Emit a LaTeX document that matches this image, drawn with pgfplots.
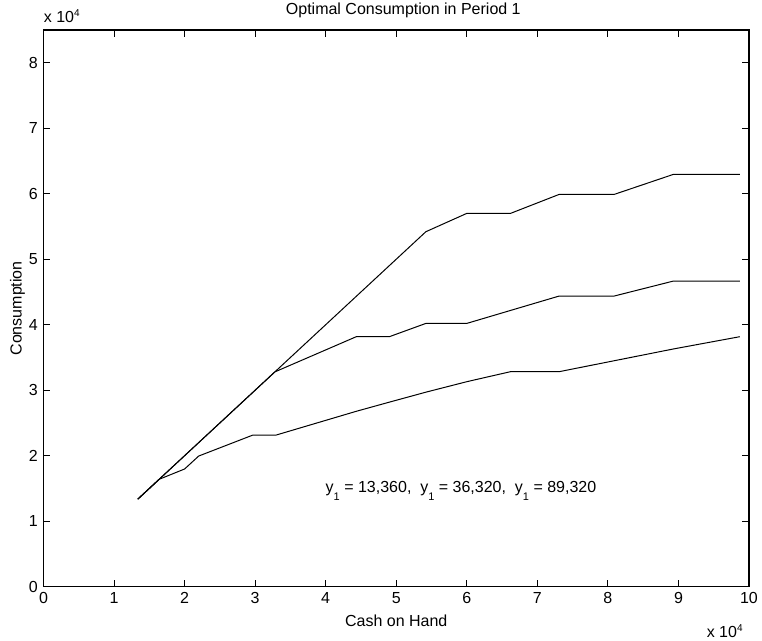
\documentclass[border=0pt]{standalone}
\usepackage{fontspec}
\setmainfont{Liberation Sans}
\usepackage{pgfplots}
\pgfplotsset{compat=1.18}
\begin{document}
\fontsize{8}{9.6}\selectfont
\begin{tikzpicture}
\begin{axis}[
  at={(0,0)}, anchor=south west,
  scale only axis,
  width=352.75pt, height=278.35pt,
  xmin=0, xmax=10, ymin=0, ymax=8.5,
  xtick={0,1,...,10}, ytick={0,1,...,8},
  scaled ticks=false,
  tick align=inside,
  major tick length=3.5pt,
  tick style={black, line width=0.5pt},
  axis line style={black, line width=0.6pt},
  /pgf/number format/assume math mode=true,
  ticklabel style={font=\fontsize{8}{9.6}\selectfont},
  label style={font=\fontsize{8}{9.6}\selectfont},
  xlabel={Cash on Hand},
  ylabel={Consumption},
  xlabel style={at={(rel axis cs:0.5,-0.0708)}, anchor=base},
  ylabel style={at={(rel axis cs:-0.0309,0.5)}, anchor=base},
  clip=false,
]
% high
\addplot[black, line width=0.5pt] coordinates {
(1.336,1.336)(1.64,1.64)(2.0,2.0)(2.2,2.2)(2.97,2.97)(3.28,3.28)(4.44,4.44)(4.91,4.91)(5.42,5.42)(6.0,5.70)(6.62,5.70)(7.31,5.99)(8.09,5.99)(8.93,6.296)(9.87,6.296)};
% mid
\addplot[black, line width=0.5pt] coordinates {
(1.336,1.336)(1.64,1.64)(2.0,2.0)(2.2,2.2)(2.97,2.97)(3.28,3.28)(4.44,3.82)(4.91,3.82)(5.42,4.02)(6.0,4.02)(6.62,4.218)(7.31,4.438)(8.09,4.438)(8.93,4.667)(9.87,4.667)};
% low
\addplot[black, line width=0.5pt] coordinates {
(1.336,1.336)(1.64,1.64)(2.0,1.797)(2.2,1.995)(2.97,2.316)(3.3,2.316)(4.44,2.68)(4.91,2.82)(5.42,2.97)(6.0,3.13)(6.62,3.283)(7.31,3.283)(8.09,3.45)(8.93,3.63)(9.87,3.817)};
\node[anchor=base, inner sep=0pt] at (axis cs:5.918,1.441) {y\raisebox{-4pt}{\fontsize{5.5}{6}\selectfont 1} = 13,360,\ \ y\raisebox{-4pt}{\fontsize{5.5}{6}\selectfont 1} = 36,320,\ \ y\raisebox{-4pt}{\fontsize{5.5}{6}\selectfont 1} = 89,320};
\node[anchor=base, inner sep=0pt] at (rel axis cs:0.51,1.0287) {Optimal Consumption in Period 1};
\node[anchor=base west, inner sep=0pt] at (rel axis cs:0,1.0126) {x 10\raisebox{3pt}{\fontsize{5}{6}\selectfont 4}};
\node[anchor=base east, inner sep=0pt] at (rel axis cs:0.9915,-0.092) {x 10\raisebox{3pt}{\fontsize{5}{6}\selectfont 4}};
\end{axis}
\pgfresetboundingbox
\path[use as bounding box] (-21.75pt,-27.15pt) rectangle (359.25pt,293.35pt);
\end{tikzpicture}
\end{document}
